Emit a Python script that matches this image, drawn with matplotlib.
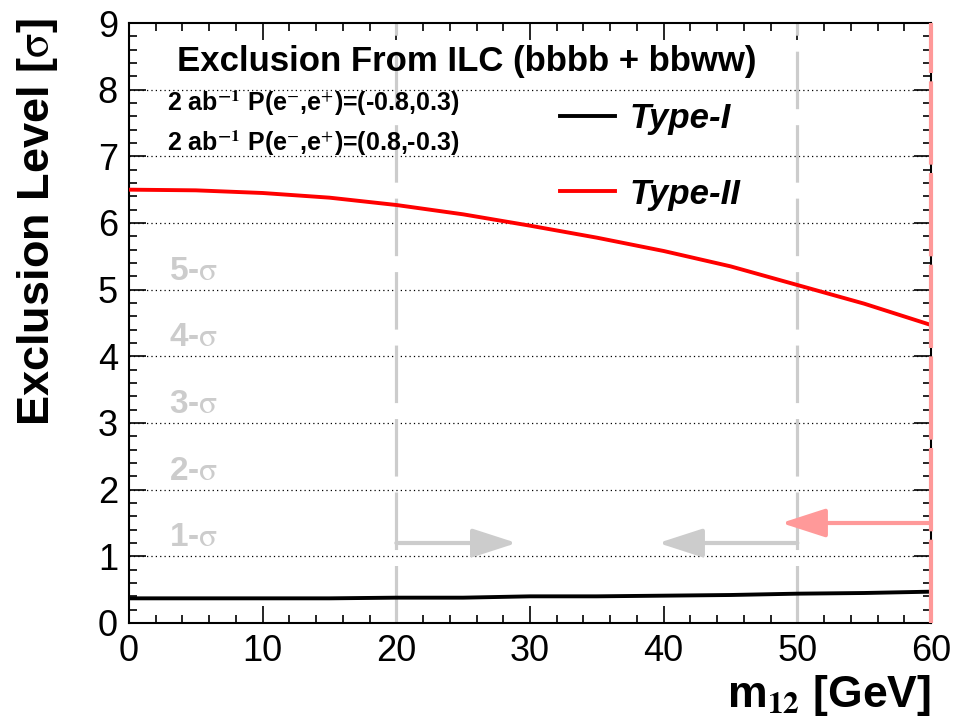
import numpy as np
import matplotlib
matplotlib.use("Agg")
import matplotlib.pyplot as plt
from matplotlib.ticker import MultipleLocator

plt.rcParams['font.family'] = ['Liberation Sans', 'DejaVu Sans']
plt.rcParams['mathtext.fontset'] = 'stix'

# curves
m12 = [0, 5, 10, 15, 20, 25, 30, 35, 40, 45, 50, 55, 60]
type2 = [6.50, 6.49, 6.45, 6.38, 6.27, 6.13, 5.96, 5.78, 5.58, 5.35, 5.07, 4.79, 4.47]
type1 = [0.37, 0.37, 0.37, 0.37, 0.38, 0.38, 0.40, 0.40, 0.41, 0.42, 0.44, 0.45, 0.47]

sigma_levels = [1, 2, 3, 4, 5]
bounds = [20, 50]          # grey dashed limits
red_bound = 60             # red limit

fig = plt.figure(figsize=(9.58, 7.25), dpi=100)
ax = fig.add_axes([129/958, 1-623/725, (931-129)/958, 600/725])

ax.set_xlim(0, 60)
ax.set_ylim(0, 9)

# dotted grid at each integer level
for yv in range(1, 9):
    ax.axhline(yv, color='black', lw=0.9, ls=(0, (1, 2.5)), zorder=1)

for xb in bounds:
    ax.axvline(xb, color='#cccccc', lw=2.3, dashes=(18, 5), zorder=2)
ax.axvline(red_bound, color='#ff9999', lw=3, dashes=(20, 2), zorder=6, clip_on=False)

ax.plot(m12, type1, color='black', lw=2.8, label='Type-I', zorder=4)
ax.plot(m12, type2, color='#ff0000', lw=2.8, label='Type-II', zorder=4)

# arrows
aprops = dict(arrowstyle='-|>,head_length=1.7,head_width=0.55', lw=3,
              color='#cccccc', mutation_scale=16, shrinkA=0, shrinkB=0)
ax.annotate('', xy=(29.0, 1.2), xytext=(20, 1.2), arrowprops=aprops)
ax.annotate('', xy=(39.6, 1.2), xytext=(50, 1.2), arrowprops=aprops)
aprops_red = dict(aprops, color='#ff9999')
ax.annotate('', xy=(48.8, 1.5), xytext=(60, 1.5), arrowprops=aprops_red)

for s in sigma_levels:
    ax.text(3.0, s + 0.28, f'{s}-$\\mathrm{{\\sigma}}$', color='#cccccc',
            fontsize=24, fontweight='bold', va='center', ha='left')

ax.text(25.3, 8.42, 'Exclusion From ILC (bbbb + bbww)', fontsize=25,
        fontweight='bold', ha='center', va='center')
ax.text(2.85, 7.8, '2 ab$^{\\mathbf{-1}}$ P(e$^{-}$,e$^{+}$)=(-0.8,0.3)', fontsize=18,
        fontweight='bold', ha='left', va='center')
ax.text(2.85, 7.2, '2 ab$^{\\mathbf{-1}}$ P(e$^{-}$,e$^{+}$)=(0.8,-0.3)', fontsize=18,
        fontweight='bold', ha='left', va='center')

ax.legend(loc='upper left', bbox_to_anchor=(0.537, 0.868), frameon=False,
          prop=dict(family='Liberation Sans', weight='bold', style='italic', size=25),
          handlelength=1.6, handletextpad=0.4, labelspacing=1.22,
          borderpad=0, borderaxespad=0)

ax.xaxis.set_major_locator(MultipleLocator(10))
ax.xaxis.set_minor_locator(MultipleLocator(2))
ax.yaxis.set_major_locator(MultipleLocator(1))
ax.yaxis.set_minor_locator(MultipleLocator(0.2))
ax.tick_params(which='both', direction='in', top=True, right=True, width=1.2)
ax.tick_params(which='major', length=12, labelsize=26, pad=8)
ax.tick_params(which='minor', length=6)
for sp in ax.spines.values():
    sp.set_linewidth(1.5)

fig.text(38/958, 1-18/725, 'Exclusion Level [$\\mathrm{\\sigma}$]', rotation=90,
         fontsize=32.5, fontweight='bold', ha='center', va='top')
fig.text(931/958, 1-695/725, 'm$_{\\mathbf{12}}$ [GeV]', fontsize=32,
         fontweight='bold', ha='right', va='center')

fig.savefig('out.png', dpi=100)
